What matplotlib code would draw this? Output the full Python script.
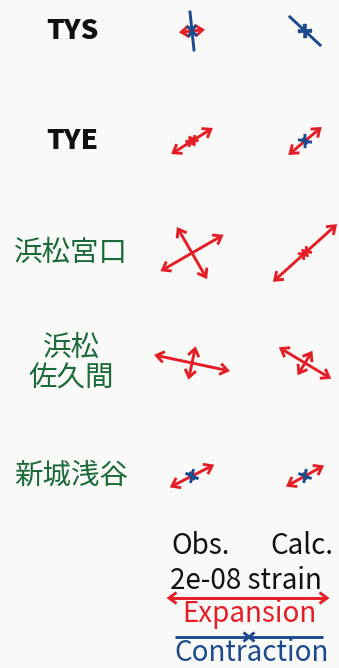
import numpy as np
import matplotlib.pyplot as plt

plt.rcParams['font.family'] = ['Noto Sans CJK JP', 'DejaVu Sans']

# principal strains in units of 1e-9; e2 lies at azimuth az + 90
stations = ["TYS", "TYE", "浜松宮口", "浜松\n佐久間", "新城浅谷"]
obs_e1 = [2.7, 5.6, 8.6, 9.2, 5.7]
obs_e2 = [-5.2, 1.0, 7.0, 3.7, -1.2]
obs_az = [84, 58, 60, 102, 63]
calc_e1 = [-0.3, 4.9, 10.3, 7.1, 4.9]
calc_e2 = [-5.6, -1.0, 0.8, 3.0, -1.0]
calc_az = [43, 50, 48, 121, 61]
scale_strain = 20.0  # 2e-08 in units of 1e-9

RED = "#e41e26"
BLUE = "#1d4a8c"
GREEN = "#1a6a3a"

fig = plt.figure(figsize=(3.39, 6.68), dpi=100)
fig.patch.set_facecolor("#f9f9f7")
ax = fig.add_axes([0, 0, 1, 1])
ax.set_xlim(0, 339)
ax.set_ylim(668, 0)
ax.axis("off")

PX = 158 / scale_strain  # pixels per unit strain (full bar length)
row_y = [31, 141, 253, 363, 476]
col_x = [192, 305]
LW = 2.1


def chevron(tip, u, h, w, color):
    n = np.array([-u[1], u[0]])
    a = tip - h * u + w * n
    b = tip - h * u - w * n
    ax.plot([a[0], tip[0], b[0]], [a[1], tip[1], b[1]], color=color, lw=LW,
            solid_joinstyle="miter", solid_capstyle="butt")


def strain_axis(c, e, az):
    if abs(e) < 1e-6:
        return
    u = np.array([np.sin(np.radians(az)), -np.cos(np.radians(az))])
    half = abs(e) * PX / 2
    p1, p2 = c + half * u, c - half * u
    if e > 0:
        ax.plot([p1[0], p2[0]], [p1[1], p2[1]], color=RED, lw=LW, solid_capstyle="butt")
        chevron(p1, u, 7.5, 5.5, RED)
        chevron(p2, -u, 7.5, 5.5, RED)
    else:
        ax.plot([p1[0], p2[0]], [p1[1], p2[1]], color=BLUE, lw=LW, solid_capstyle="butt")
        chevron(c, -u, -5.5, 4.5, BLUE)
        chevron(c, u, -5.5, 4.5, BLUE)


def tensor(c, e1, e2, az):
    c = np.array(c, dtype=float)
    strain_axis(c, e1, az)
    strain_axis(c, e2, az + 90)


for i, name in enumerate(stations):
    if name.isascii():
        ax.text(72, row_y[i], name, ha="center", va="center", fontsize=20,
                fontweight="heavy", color="#111111")
    else:
        ax.text(71, row_y[i], name, ha="center", va="center", fontsize=20.5,
                color=GREEN, linespacing=1.05)
    tensor((col_x[0], row_y[i]), obs_e1[i], obs_e2[i], obs_az[i])
    tensor((col_x[1], row_y[i]), calc_e1[i], calc_e2[i], calc_az[i])

# legend
kw = dict(ha="center", va="center", fontsize=20)
ax.text(201, 546, "Obs.", color="#111111", **kw)
ax.text(302, 546, "Calc.", color="#111111", **kw)
ax.text(246, 581, "2e-08 strain", color="#111111", **kw)
strain_axis(np.array([248.0, 598.0]), scale_strain, 90)
ax.text(249, 614, "Expansion", color=RED, **kw)
strain_axis(np.array([249.0, 637.0]), -scale_strain * 148 / 158, 90)
ax.text(252, 653, "Contraction", color=BLUE, **kw)

fig.savefig("out.png", dpi=100, facecolor=fig.get_facecolor())
